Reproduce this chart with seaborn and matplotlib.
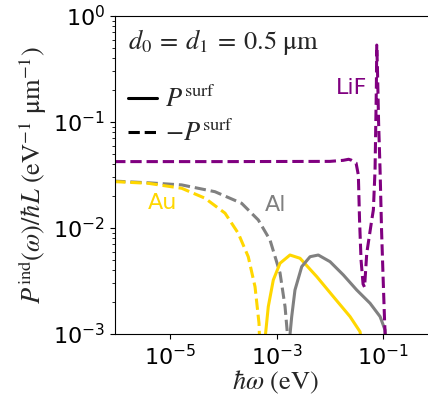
import numpy as np
import pandas as pd
import matplotlib
matplotlib.use("Agg")
import matplotlib.pyplot as plt
import seaborn as sns
from matplotlib.lines import Line2D

# ---- data ----
au_neg_x = [9e-7, 3.92e-6, 1.66e-5, 4.54e-5, 1.08e-4, 1.91e-4, 2.94e-4, 3.94e-4, 4.68e-4, 5.13e-4]
au_neg_y = [0.0274, 0.0264, 0.0237, 0.0191, 0.0138, 0.00891, 0.00536, 0.00279, 0.00126, 3e-4]

al_neg_x = [9e-7, 3.92e-6, 1.66e-5, 6.98e-5, 2.21e-4, 4.54e-4, 7.52e-4, 1.16e-3, 1.44e-3, 1.59e-3, 1.62e-3]
al_neg_y = [0.0277, 0.0267, 0.0255, 0.0220, 0.0171, 0.0119, 0.00771, 0.00376, 0.00181, 0.00102, 3e-4]

au_pos_x = [6.0e-4, 6.2e-4, 6.98e-4, 8.67e-4, 1.16e-3, 1.78e-3, 2.75e-3, 5.65e-3, 0.01159, 0.0238, 0.0367, 0.0398]
au_pos_y = [3e-4, 1.0e-3, 0.00181, 0.00323, 0.00465, 0.00556, 0.00518, 0.00348, 0.00225, 0.00146, 0.00105, 7.9e-4]

al_pos_x = [1.76e-3, 1.78e-3, 1.92e-3, 2.21e-3, 2.96e-3, 4.24e-3, 6.05e-3, 0.01005, 0.0178, 0.0318, 0.0565, 0.0871, 0.108, 0.112]
al_pos_y = [3e-4, 9.8e-4, 0.00146, 0.0026, 0.00432, 0.00536, 0.00556, 0.00481, 0.00361, 0.0026, 0.00195, 0.00146, 0.00109, 6.3e-4]

lif_neg_x = [9e-7, 1e-4, 0.01, 0.0178, 0.0224, 0.0251, 0.0309, 0.0341, 0.0359, 0.0383, 0.0418, 0.0446,
             0.0490, 0.0608, 0.0652, 0.0701, 0.0741, 0.0755, 0.0780, 0.0817, 0.0871, 0.0929, 0.0991, 0.1057, 0.1104]
lif_neg_y = [0.0423, 0.0423, 0.0425, 0.0435, 0.0445, 0.0437, 0.0410, 0.0316, 0.0119, 0.00501, 0.00296, 0.00277,
             0.00577, 0.0119, 0.0148, 0.0352, 0.2, 0.532, 0.3, 0.1, 0.0352, 0.0095, 0.0035, 0.00135, 7.9e-4]

materials = ["Au", "Al", "LiF"]
colors = {"Au": "#FFD700", "Al": "#808080", "LiF": "#800080"}
label_pos = {"Au": (7.4e-6, 0.0172), "Al": (9.75e-4, 0.0165), "LiF": (0.0249, 0.209)}

annot_text = r"$d_0\:=\:d_1\:=\:0.5\ \mathrm{\mu m}$"
xlabel = r"$\hbar\omega\ (\mathrm{eV})$"
ylabel = r"$P^{\mathrm{ind}}(\omega)/\hbar L\ (\mathrm{eV}^{-1}\ \mathrm{\mu m}^{-1})$"

# ---- style ----
sns.set_style("ticks")
plt.rcParams["mathtext.fontset"] = "stix"
plt.rcParams["font.family"] = ["DejaVu Sans"]
plt.rcParams["axes.edgecolor"] = "black"
plt.rcParams["xtick.color"] = "black"
plt.rcParams["ytick.color"] = "black"

fig = plt.figure(figsize=(4.28, 4.01), dpi=100)
ax = fig.add_axes([0.2687, 0.1671, 0.7514, 0.7930])

series = [
    ("Al", al_neg_x, al_neg_y, "--"),
    ("Au", au_neg_x, au_neg_y, "--"),
    ("Au", au_pos_x, au_pos_y, "-"),
    ("Al", al_pos_x, al_pos_y, "-"),
    ("LiF", lif_neg_x, lif_neg_y, "--"),
]
for name, xs, ys, ls in series:
    df = pd.DataFrame({"x": xs, "y": ys})
    sns.lineplot(data=df, x="x", y="y", ax=ax, color=colors[name], lw=2.2,
                 linestyle=ls, sort=False, estimator=None)

ax.set_xscale("log")
ax.set_yscale("log")
ax.set_xlim(10**-6.03, 1)
ax.set_ylim(1e-3, 1)

for name in materials:
    ax.text(*label_pos[name], name, color=colors[name], fontsize=16,
            ha="center", va="center")

ax.text(0.04, 0.918, annot_text, transform=ax.transAxes, fontsize=19,
        ha="left", va="center")

handles = [Line2D([], [], color="black", lw=2.2, ls="-"),
           Line2D([], [], color="black", lw=2.2, ls="--")]
ax.legend(handles, [r"$P^{\mathrm{surf}}$", r"$-P^{\mathrm{surf}}$"],
          loc="upper left", bbox_to_anchor=(0.0, 0.818), borderpad=0,
          frameon=False, fontsize=19, handlelength=1.1, handletextpad=0.3,
          labelspacing=0.3)

ax.set_xlabel(xlabel, fontsize=19, labelpad=0)
ax.set_ylabel(ylabel, fontsize=19, labelpad=3)
ax.tick_params(labelsize=16)

fig.savefig("out.png", dpi=100)
